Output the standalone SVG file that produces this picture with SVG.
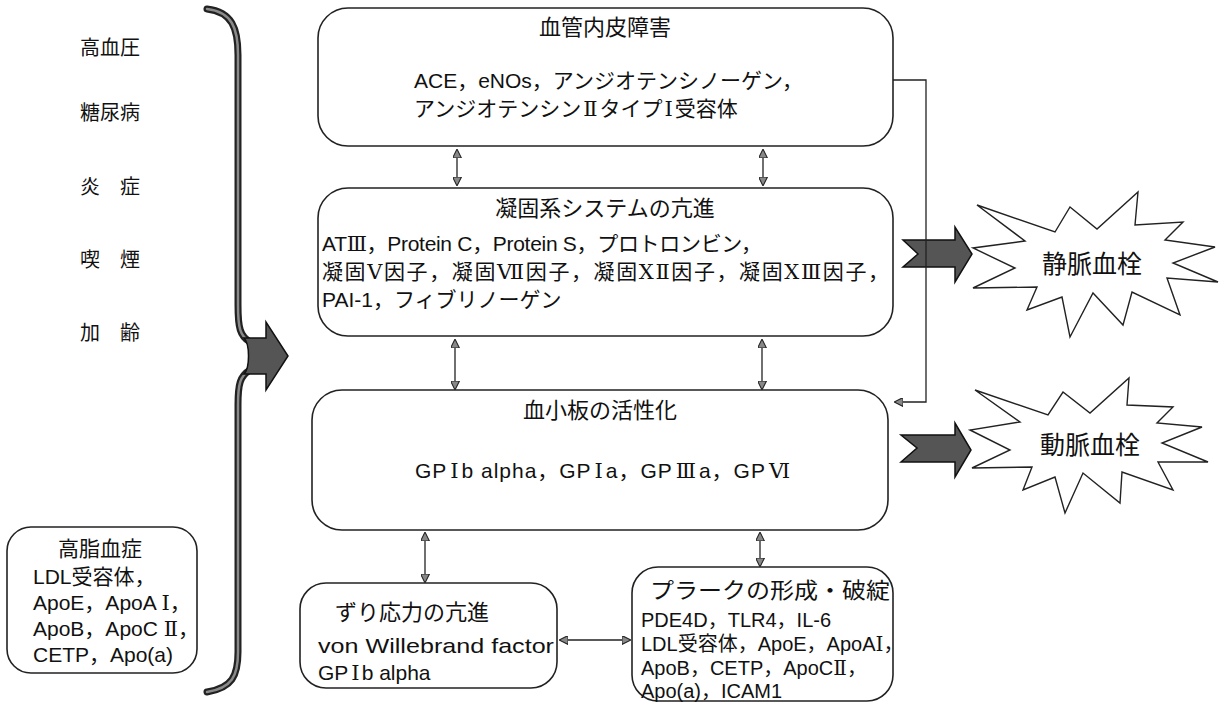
<svg xmlns="http://www.w3.org/2000/svg" width="1220" height="703" viewBox="0 0 1220 703">
<style>
text{font-family:"Liberation Sans","Noto Sans CJK JP",sans-serif;fill:#111;font-size:21px}
.t{text-anchor:middle}
.h{font-size:22px}
.p{font-size:20px}
.l{font-size:20px}
.s{font-size:25px}
.r{font-family:"DejaVu Serif","Liberation Serif","Noto Sans CJK JP",serif}
.box{fill:#fff;stroke:#222;stroke-width:1.6}
.ln{fill:none;stroke:#222;stroke-width:1.3}
.fat{fill:#555;stroke:#111;stroke-width:1.5}
.star{fill:#fff;stroke:#222;stroke-width:1.4}
</style>
<defs>
<marker id="ah" viewBox="0 0 10 10" refX="9" refY="5" markerWidth="9" markerHeight="9" markerUnits="userSpaceOnUse" orient="auto-start-reverse">
<path d="M0,0 L10,5 L0,10 Z" fill="#888" stroke="#222" stroke-width="1.2"/>
</marker>
</defs>

<g id="risk-factors">
<text class="t l" x="110" y="55">高血圧</text>
<text class="t l" x="110" y="120">糖尿病</text>
<text class="t l" x="110" y="194">炎　症</text>
<text class="t l" x="110" y="267">喫　煙</text>
<text class="t l" x="110" y="340">加　齢</text>
</g>

<g id="hyperlipidemia">
<rect class="box" x="7" y="527" width="190" height="146" rx="24"/>
<text class="t" x="100" y="556">高脂血症</text>
<text x="33" y="584">LDL受容体，</text>
<text x="33" y="610">ApoE，ApoA <tspan class="r">Ⅰ</tspan>，</text>
<text x="33" y="636">ApoB，ApoC <tspan class="r">Ⅱ</tspan>，</text>
<text x="33" y="662">CETP，Apo(a)</text>
</g>

<g id="brace">
<path d="M207,9 C232,12 238,28 238,55 L238,305 C238,328 240,336 250,342 M250,370 C240,376 238,384 238,405 L238,652 C238,676 232,688 207,692" fill="none" stroke="#222" stroke-width="7" stroke-linecap="round"/>
<path d="M207,9 C232,12 238,28 238,55 L238,305 C238,328 240,336 250,342 M250,370 C240,376 238,384 238,405 L238,652 C238,676 232,688 207,692" fill="none" stroke="#8a8a8a" stroke-width="2.5" stroke-linecap="round"/>
<path class="fat" d="M244,338 L266,338 L266,322 L288,356 L266,390 L266,374 L244,374 C250,368 250,344 244,338 Z"/>
</g>

<g id="endothelial">
<rect class="box" x="318" y="8" width="575" height="138" rx="30"/>
<text class="t h" x="605" y="35">血管内皮障害</text>
<text x="414" y="88">ACE，eNOs，アンジオテンシノーゲン，</text>
<text x="414" y="116">アンジオテンシン<tspan class="r" dx="2">Ⅱ</tspan><tspan dx="2">タイプ</tspan><tspan class="r" dx="2">Ⅰ</tspan><tspan dx="2">受容体</tspan></text>
</g>

<g id="coagulation">
<rect class="box" x="318" y="188" width="575" height="148" rx="30"/>
<text class="t h" x="605" y="216">凝固系システムの亢進</text>
<text x="322" y="251" textLength="440">AT<tspan class="r">Ⅲ</tspan>，Protein C，Protein S，プロトロンビン，</text>
<text x="322" y="279" textLength="567">凝固<tspan class="r">Ⅴ</tspan>因子，凝固<tspan class="r">Ⅶ</tspan>因子，凝固<tspan class="r">ⅩⅡ</tspan>因子，凝固<tspan class="r">ⅩⅢ</tspan>因子，</text>
<text x="322" y="307">PAI-1，フィブリノーゲン</text>
</g>

<g id="platelet">
<rect class="box" x="312" y="390" width="576" height="140" rx="30"/>
<text class="t h" x="600" y="418">血小板の活性化</text>
<text x="415" y="478" textLength="375">GP<tspan class="r" dx="3">Ⅰ</tspan><tspan dx="2">b alpha，GP</tspan><tspan class="r" dx="3">Ⅰ</tspan><tspan dx="2">a，GP</tspan><tspan class="r" dx="3">Ⅲ</tspan><tspan dx="2">a，GP</tspan><tspan class="r" dx="3">Ⅵ</tspan></text>
</g>

<g id="shear-stress">
<rect class="box" x="300" y="583" width="257" height="105" rx="26"/>
<text class="h" x="335" y="620">ずり応力の亢進</text>
<text x="318" y="653" textLength="236" lengthAdjust="spacingAndGlyphs">von Willebrand factor</text>
<text x="318" y="680">GP<tspan class="r" dx="3">Ⅰ</tspan><tspan dx="2">b alpha</tspan></text>
</g>

<g id="plaque">
<rect class="box" x="632" y="567" width="261" height="134" rx="26"/>
<text class="h" x="650" y="598" textLength="240" lengthAdjust="spacingAndGlyphs">プラークの形成・破綻</text>
<text class="p" x="641" y="627">PDE4D，TLR4，IL-6</text>
<text class="p" x="641" y="651">LDL受容体，ApoE，ApoA<tspan class="r">Ⅰ</tspan>，</text>
<text class="p" x="641" y="675">ApoB，CETP，ApoC<tspan class="r">Ⅱ</tspan>，</text>
<text class="p" x="641" y="698">Apo(a)，ICAM1</text>
</g>

<g id="venous-thrombus">
<path class="fat" d="M903,240 L955,240 L955,227 L972,254 L955,282 L955,267 L903,267 L918,254 Z"/>
<polygon class="star" points="977,205 1055,232 1070,207 1097,229 1138,192 1135,225 1183,222 1165,240 1215,247 1173,263 1218,282 1167,278 1180,315 1132,292 1123,325 1093,293 1070,337 1062,297 1027,310 1037,287 973,288 1015,268 973,248 1025,241"/>
<text class="t s" x="1092" y="273">静脈血栓</text>
</g>

<g id="arterial-thrombus">
<path class="fat" d="M901,435 L955,435 L955,423 L971,450 L955,477 L955,462 L901,462 L917,448 Z"/>
<polygon class="star" points="975,390 1048,415 1063,392 1090,413 1129,378 1127,405 1173,407 1157,423 1202,427 1162,443 1208,462 1158,462 1173,490 1122,472 1120,503 1083,473 1065,513 1055,477 1023,490 1032,467 972,468 1010,450 970,430 1020,422"/>
<text class="t s" x="1090" y="454">動脈血栓</text>
</g>

<g id="connectors">
<line class="ln" x1="457" y1="150" x2="457" y2="185" marker-start="url(#ah)" marker-end="url(#ah)"/>
<line class="ln" x1="763" y1="150" x2="763" y2="185" marker-start="url(#ah)" marker-end="url(#ah)"/>
<line class="ln" x1="455" y1="340" x2="455" y2="389" marker-start="url(#ah)" marker-end="url(#ah)"/>
<line class="ln" x1="762" y1="340" x2="762" y2="389" marker-start="url(#ah)" marker-end="url(#ah)"/>
<line class="ln" x1="425" y1="533" x2="425" y2="582" marker-start="url(#ah)" marker-end="url(#ah)"/>
<line class="ln" x1="760" y1="533" x2="760" y2="566" marker-start="url(#ah)" marker-end="url(#ah)"/>
<line class="ln" x1="560" y1="640" x2="630" y2="640" marker-start="url(#ah)" marker-end="url(#ah)"/>
<polyline class="ln" points="893,80 926,80 926,402 895,402" marker-end="url(#ah)"/>
</g>
</svg>
